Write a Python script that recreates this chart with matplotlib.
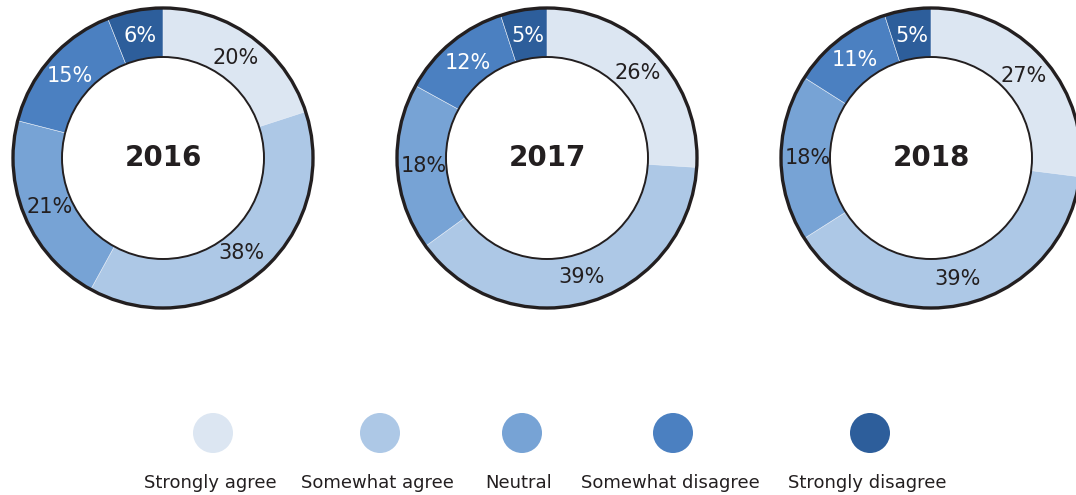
import matplotlib
matplotlib.use('Agg')
import matplotlib.pyplot as plt
from matplotlib.patches import Circle

plt.rcParams['font.family'] = ['DejaVu Sans']

# survey answers per year (percent)
categories = ['Strongly agree', 'Somewhat agree', 'Neutral', 'Somewhat disagree', 'Strongly disagree']
years = ['2016', '2017', '2018']
shares_2016 = [20, 38, 21, 15, 6]
shares_2017 = [26, 39, 18, 12, 5]
shares_2018 = [27, 39, 18, 11, 5]
colors = ['#dce6f2', '#adc8e6', '#77a3d5', '#4b80c1', '#2d5e9b']
label_colors = ['#231f20', '#231f20', '#231f20', 'white', 'white']

W, H = 1076, 495
fig = plt.figure(figsize=(W / 100, H / 100), dpi=100)
ax = fig.add_axes([0, 0, 1, 1])

centers = [(163, 337), (547, 337), (931, 337)]
r_out, r_in = 150, 101

for year, shares, (cx, cy) in zip(years, [shares_2016, shares_2017, shares_2018], centers):
    wedges, texts, autotexts = ax.pie(
        shares, colors=colors, startangle=90, counterclock=False,
        center=(cx, cy), radius=r_out, autopct='%d%%', pctdistance=0.825,
        wedgeprops=dict(width=r_out - r_in, linewidth=0.4, edgecolor='#e6edf6'),
        textprops=dict(fontsize=15))
    for t, c in zip(autotexts, label_colors):
        t.set_color(c)
    # borders around the ring
    ax.add_patch(Circle((cx, cy), r_out, fill=False, edgecolor='#231f20', linewidth=2.4, zorder=5))
    ax.add_patch(Circle((cx, cy), r_in, fill=False, edgecolor='#231f20', linewidth=1.4, zorder=5))
    ax.text(cx, cy, year, ha='center', va='center', fontsize=20, fontweight='bold', color='#231f20')

# legend row
legend_x = [213, 380, 522, 673, 870]
ax.scatter(legend_x, [62] * 5, s=830, c=colors, linewidths=0)
for x, name in zip(legend_x, categories):
    ax.text(x - 3, 12, name, ha='center', va='center', fontsize=13, color='#231f20')

ax.set_xlim(0, W)
ax.set_ylim(0, H)
ax.set_aspect('equal')
ax.axis('off')

fig.savefig('out.png', dpi=100)
